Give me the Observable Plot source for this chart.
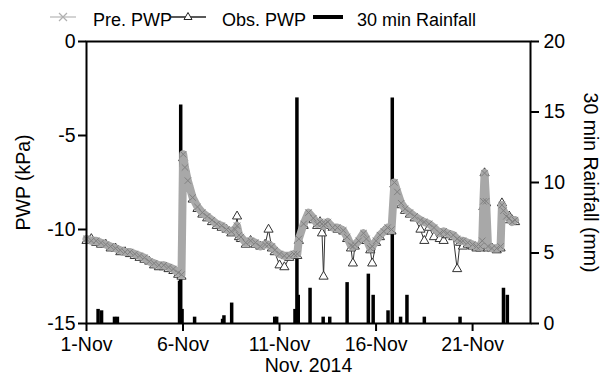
<!DOCTYPE html>
<html><head><meta charset="utf-8">
<script src="https://cdn.jsdelivr.net/npm/d3@7"></script>
<script src="https://cdn.jsdelivr.net/npm/@observablehq/plot@0.6"></script>
<style>
body{margin:0;background:#fff;font-family:"Liberation Sans",Arial,sans-serif;}
#wrap{position:relative;width:604px;height:383px;overflow:hidden;}
#legend{display:block;}
#chart svg{display:block;}
</style></head><body>
<div id="wrap"><svg id="legend" width="604" height="30"></svg><div id="chart"></div></div>
<script>
// ---- data (day of November 2014, fractional) ----
const pwpDay = [1.0,1.25,1.5,1.75,2.0,2.25,2.5,2.75,3.0,3.25,3.5,3.75,4.0,4.25,4.5,4.75,5.0,5.25,5.5,5.75,5.92,
  6.01,6.1,6.25,6.5,6.75,7.0,7.25,7.5,7.75,8.0,8.25,8.5,8.7,8.8,8.9,9.0,9.25,9.5,9.75,10.0,10.25,10.43,10.6,10.75,
  11.0,11.25,11.5,11.75,11.92,12.0,12.25,12.5,12.75,12.95,13.1,13.2,13.28,13.36,13.5,13.75,14.0,14.3,14.5,14.7,14.8,14.9,
  15.1,15.35,15.5,15.7,15.8,16.0,16.2,16.4,16.6,16.8,16.95,17.1,17.3,17.5,17.75,18.0,18.3,18.5,18.75,19.0,19.3,19.5,19.7,
  20.0,20.2,20.35,20.5,20.75,21.0,21.2,21.4,21.5,21.56,21.62,21.7,21.8,22.0,22.25,22.45,22.52,22.6,22.75,22.9,23.05,23.2];
const predPWP = [-10.5,-10.6,-10.6,-10.7,-10.8,-10.9,-11.0,-11.1,-11.2,-11.2,-11.3,-11.4,-11.5,-11.7,-11.8,-11.9,-11.9,-12.0,-12.1,-12.3,-12.4,
  -6.0,-6.7,-7.4,-8.3,-8.8,-9.1,-9.3,-9.5,-9.7,-9.8,-10.0,-10.1,-10.0,-9.8,-10.3,-10.4,-10.7,-10.6,-10.7,-10.9,-10.8,-10.8,-10.9,-11.1,
  -11.3,-11.4,-11.4,-11.3,-11.3,-10.5,-9.7,-9.1,-9.4,-9.7,-9.6,-9.7,-9.8,-9.7,-9.6,-9.9,-9.9,-10.05,-10.4,-10.85,-10.9,-10.8,
  -10.6,-10.2,-10.5,-11.0,-10.9,-10.6,-10.3,-10.1,-9.9,-10.0,-7.5,-8.0,-8.6,-8.9,-9.1,-9.3,-9.5,-9.6,-9.7,-9.9,-10.2,-10.1,-10.2,
  -10.3,-10.5,-10.6,-10.6,-10.7,-10.8,-10.9,-10.9,-10.6,-8.5,-7.0,-8.5,-10.9,-11.0,-11.0,-10.9,-8.7,-9.0,-9.3,-9.4,-9.6,-9.5];
const obsPWP = [-10.6,-10.5,-10.7,-10.8,-10.8,-11.0,-11.0,-11.2,-11.2,-11.3,-11.4,-11.5,-11.6,-11.7,-11.9,-12.0,-12.0,-12.1,-12.2,-12.4,-12.5,
  -6.2,-6.8,-7.5,-8.4,-8.9,-9.2,-9.4,-9.6,-9.8,-9.9,-10.0,-10.2,-10.1,-9.3,-10.4,-10.5,-10.8,-10.6,-10.8,-10.9,-10.8,-10.0,-11.0,-11.2,
  -11.9,-12.0,-11.5,-11.4,-11.4,-10.6,-9.8,-9.2,-9.5,-9.8,-9.6,-10.2,-12.5,-9.8,-9.7,-9.9,-10.0,-10.1,-10.5,-11.0,-11.8,-10.9,
  -10.6,-10.3,-10.6,-11.1,-11.8,-10.7,-10.4,-10.1,-10.0,-10.1,-7.6,-8.1,-8.7,-9.0,-9.2,-9.4,-10.0,-10.6,-9.9,-10.4,-10.5,-10.6,-10.3,
  -10.4,-12.1,-10.7,-10.9,-10.8,-10.9,-11.0,-11.0,-10.8,-8.8,-7.0,-8.6,-11.0,-11.0,-11.1,-11.0,-8.6,-9.2,-9.5,-9.3,-9.5,-9.6];
const rainDay = [1.6,1.78,2.45,2.6,5.82,5.88,5.95,6.6,8.05,8.12,8.52,10.75,10.85,11.8,11.9,11.97,12.58,13.26,13.6,14.5,15.6,15.85,16.62,16.84,17.27,17.6,18.5,20.35,22.6,22.8];
const rainMM  = [1.0,0.9,0.45,0.45,3.0,15.5,1.0,0.45,0.3,0.55,1.45,0.45,0.45,1.0,16.0,2.0,2.5,0.45,0.45,2.9,3.5,2.0,0.9,16.0,0.45,2.0,0.45,0.45,2.5,2.0];
const xTickDays = [1,6,11,16,21];
const pwpTicks = [-15,-10,-5,0];
const rainTicks = [0,5,10,15,20];

// ---- legend ----
const lg = d3.select("#legend");
const fs = 'font-family:"Liberation Sans",Arial,sans-serif;font-size:18px';
lg.append("line").attr("x1",50).attr("x2",76).attr("y1",17).attr("y2",17).attr("stroke","#c4c4c4").attr("stroke-width",1.5);
lg.append("path").attr("d","M59,13L67,21M59,21L67,13").attr("stroke","#b0b0b0").attr("stroke-width",1.2);
lg.append("text").attr("x",93).attr("y",26).attr("style",fs).text("Pre. PWP");
lg.append("line").attr("x1",170).attr("x2",206).attr("y1",17).attr("y2",17).attr("stroke","#222").attr("stroke-width",1.5);
lg.append("path").attr("d","M188,12.5L184,19.5L192,19.5Z").attr("fill","#fff").attr("stroke","#222").attr("stroke-width",1);
lg.append("text").attr("x",222).attr("y",26).attr("style",fs).text("Obs. PWP");
lg.append("line").attr("x1",313).attr("x2",343).attr("y1",17).attr("y2",17).attr("stroke","#000").attr("stroke-width",4);
lg.append("text").attr("x",357).attr("y",26).attr("style",fs).text("30 min Rainfall");

// ---- chart ----
const toDate = d => new Date(Date.UTC(2014,10,1) + (d-1)*864e5);
const toLeft = mm => -15 + mm*15/20;
const pwp = pwpDay.map((d,i)=>({t:toDate(d), pred:predPWP[i], obs:obsPWP[i]}));
const rain = rainDay.map((d,i)=>({t:toDate(d), mm:rainMM[i]}));
const FS = 19.5;

const chart = Plot.plot({
  width:604, height:353, marginTop:11, marginBottom:60, marginLeft:86, marginRight:74,
  style:{fontFamily:"Liberation Sans, Arial, sans-serif", fontSize:FS+"px", color:"#000", background:"#fff"},
  x:{type:"utc", domain:[toDate(1), toDate(24)]},
  y:{domain:[-15,0]},
  marks:[
    Plot.ruleX(rain, {x:"t", y1:-15, y2:d=>toLeft(d.mm), stroke:"#000", strokeWidth:3.5}),
    Plot.line(pwp, {x:"t", y:"obs", stroke:"#333", strokeWidth:1}),
    Plot.dot(pwp, {x:"t", y:"obs", symbol:"triangle", r:3.4, fill:"#fff", stroke:"#333", strokeWidth:1}),
    Plot.line(pwp, {x:"t", y:"pred", stroke:"#a8a8a8", strokeWidth:8}),
    Plot.dot(pwp, {x:"t", y:"pred", symbol:"times", r:3, stroke:"#808080", strokeWidth:1}),
    Plot.axisX({ticks:xTickDays.map(toDate), tickFormat:d3.utcFormat("%-d-%b"), tickSize:8, tickPadding:6, strokeWidth:2, label:null, fontSize:FS}),
    Plot.axisY({ticks:pwpTicks, tickFormat:d=>String(d), tickSize:8, tickPadding:3, strokeWidth:2, label:null, fontSize:FS}),
    Plot.axisY({anchor:"right", ticks:rainTicks.map(toLeft), tickFormat:d=>String(Math.round((d+15)*20/15)), tickSize:8, tickPadding:5, strokeWidth:2, label:null, fontSize:FS}),
    Plot.frame({stroke:"#000", strokeWidth:2}),
    Plot.text(["PWP (kPa)"], {frameAnchor:"left", textAnchor:"middle", lineAnchor:"middle", rotate:-90, dx:-63, text:d=>d, fontSize:FS, fill:"#000"}),
    Plot.text(["30 min Rainfall (mm)"], {frameAnchor:"right", textAnchor:"middle", lineAnchor:"middle", rotate:90, dx:60, text:d=>d, fontSize:FS, fill:"#000"}),
    Plot.text(["Nov. 2014"], {frameAnchor:"bottom", textAnchor:"middle", lineAnchor:"middle", dy:42, text:d=>d, fontSize:FS, fill:"#000"})
  ]
});
document.getElementById("chart").appendChild(chart);
</script>
</body></html>
